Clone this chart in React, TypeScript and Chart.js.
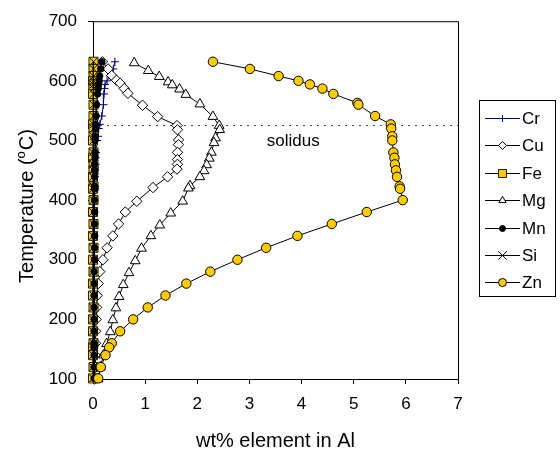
import React, { useEffect, useRef } from 'react';
import { Chart, registerables } from 'chart.js';

Chart.register(...registerables);

const FONT = '"Liberation Sans", Arial, Helvetica, sans-serif';

// Axis ticks
const wtTicks = [0, 1, 2, 3, 4, 5, 6, 7];
const tempTicks = [100, 200, 300, 400, 500, 600, 700];
const solidusTemp = 525;

// Zn
const znTemp = [632, 620, 608, 600, 594, 587, 578, 563, 560, 541, 527, 520, 507, 500, 480, 471, 460, 450, 439, 423, 419, 400, 380, 360, 340, 320, 300, 280, 260, 240, 220, 200, 180, 160, 153, 140, 120, 101];
const znWt = [2.30, 3.01, 3.56, 3.94, 4.16, 4.40, 4.61, 5.07, 5.09, 5.41, 5.71, 5.72, 5.74, 5.74, 5.76, 5.78, 5.79, 5.81, 5.83, 5.88, 5.89, 5.94, 5.25, 4.58, 3.92, 3.32, 2.77, 2.25, 1.79, 1.39, 1.05, 0.77, 0.52, 0.36, 0.31, 0.24, 0.15, 0.10];

// Mg
const mgTemp = [630, 617, 607, 598, 593, 586, 577, 561, 540, 525, 518, 504, 496, 480, 470, 459, 449, 439, 424, 420, 398, 378, 358, 340, 319, 298, 278, 258, 238, 219, 199, 179, 159, 140, 120, 100];
const mgWt = [0.79, 1.06, 1.27, 1.44, 1.52, 1.66, 1.78, 2.05, 2.30, 2.42, 2.43, 2.35, 2.32, 2.27, 2.23, 2.18, 2.13, 2.05, 1.86, 1.83, 1.72, 1.49, 1.28, 1.11, 0.93, 0.81, 0.69, 0.58, 0.50, 0.44, 0.38, 0.33, 0.26, 0.20, 0.14, 0.10];

// Cu
const cuTemp = [632, 620, 609, 601, 596, 587, 579, 559, 540, 525, 518, 501, 493, 480, 468, 460, 452, 439, 421, 398, 380, 360, 340, 320, 300, 280, 260, 240, 220, 200, 180, 160, 140, 120, 100];
const cuWt = [0.18, 0.29, 0.36, 0.45, 0.52, 0.60, 0.67, 0.95, 1.24, 1.61, 1.62, 1.64, 1.64, 1.62, 1.62, 1.62, 1.61, 1.43, 1.15, 0.84, 0.62, 0.49, 0.38, 0.27, 0.19, 0.13, 0.10, 0.08, 0.07, 0.06, 0.05, 0.05, 0.04, 0.04, 0.03];

// Minor elements share one temperature list
const traceTemp = [632, 620, 608, 600, 594, 587, 578, 560, 541, 527, 520, 507, 500, 480, 471, 460, 450, 439, 423, 419, 400, 380, 360, 340, 320, 300, 280, 260, 240, 220, 200, 180, 160, 153, 140, 120, 101];
const crWt = [0.42, 0.39, 0.33, 0.27, 0.23, 0.22, 0.21, 0.20, 0.17, 0.13, 0.11, 0.10, 0.08, 0.06, 0.05, 0.05, 0.04, 0.04, 0.04, 0.04, 0.03, 0.03, 0.03, 0.03, 0.03, 0.02, 0.02, 0.02, 0.02, 0.02, 0.02, 0.02, 0.02, 0.02, 0.02, 0.02, 0.02];
const feWt = [0.01, 0.01, 0.01, 0.00, 0.01, 0.01, 0.00, 0.01, 0.01, 0.00, 0.01, 0.01, 0.00, 0.01, 0.00, 0.01, 0.01, 0.00, 0.01, 0.00, 0.01, 0.00, 0.01, 0.00, 0.01, 0.00, 0.01, 0.00, 0.00, 0.01, 0.00, 0.00, 0.01, 0.00, 0.00, 0.01, 0.00];
const mnWt = [0.17, 0.15, 0.13, 0.12, 0.11, 0.10, 0.09, 0.07, 0.06, 0.05, 0.05, 0.04, 0.04, 0.04, 0.04, 0.03, 0.03, 0.03, 0.03, 0.03, 0.03, 0.03, 0.03, 0.03, 0.03, 0.03, 0.02, 0.02, 0.02, 0.02, 0.02, 0.02, 0.02, 0.02, 0.02, 0.02, 0.02];
const siWt = [0.01, 0.01, 0.01, 0.01, 0.01, 0.01, 0.01, 0.01, 0.01, 0.01, 0.01, 0.01, 0.01, 0.00, 0.01, 0.00, 0.01, 0.00, 0.01, 0.00, 0.01, 0.00, 0.01, 0.00, 0.00, 0.01, 0.00, 0.00, 0.01, 0.00, 0.00, 0.00, 0.01, 0.00, 0.00, 0.00, 0.00];

const GOLD = '#FFCC00';

type Series = {
  name: string;
  temp: number[];
  wt: number[];
  style: string;
  radius: number;
  legendRadius: number;
  fill: string;
  stroke: string;
  line: string;
};

const series: Series[] = [
  { name: 'Cr', temp: traceTemp, wt: crWt, style: 'cross', radius: 4, legendRadius: 3.5, fill: '#000080', stroke: '#000080', line: '#000080' },
  { name: 'Cu', temp: cuTemp, wt: cuWt, style: 'rectRot', radius: 5.2, legendRadius: 4, fill: '#ffffff', stroke: '#000000', line: '#000000' },
  { name: 'Fe', temp: traceTemp, wt: feWt, style: 'rect', radius: 6.4, legendRadius: 5.6, fill: GOLD, stroke: '#222200', line: '#000000' },
  { name: 'Mg', temp: mgTemp, wt: mgWt, style: 'triangle', radius: 5.6, legendRadius: 4.2, fill: '#ffffff', stroke: '#000000', line: '#000000' },
  { name: 'Mn', temp: traceTemp, wt: mnWt, style: 'circle', radius: 3.2, legendRadius: 3, fill: '#000000', stroke: '#000000', line: '#000000' },
  { name: 'Si', temp: traceTemp, wt: siWt, style: 'crossRot', radius: 5.5, legendRadius: 6, fill: '#000000', stroke: '#000000', line: '#000000' },
  { name: 'Zn', temp: znTemp, wt: znWt, style: 'circle', radius: 4.7, legendRadius: 4, fill: GOLD, stroke: '#000000', line: '#000000' },
];

function drawMarker(ctx: CanvasRenderingContext2D, s: Series, x: number, y: number) {
  const r = s.legendRadius;
  ctx.save();
  ctx.lineWidth = 1;
  ctx.fillStyle = s.fill;
  ctx.strokeStyle = s.stroke;
  ctx.beginPath();
  switch (s.style) {
    case 'circle':
      ctx.arc(x, y, r, 0, Math.PI * 2);
      ctx.fill();
      ctx.stroke();
      break;
    case 'rect': {
      const h = r * Math.SQRT1_2;
      ctx.rect(x - h, y - h, 2 * h, 2 * h);
      ctx.fill();
      ctx.stroke();
      break;
    }
    case 'rectRot':
      ctx.moveTo(x, y - r);
      ctx.lineTo(x + r, y);
      ctx.lineTo(x, y + r);
      ctx.lineTo(x - r, y);
      ctx.closePath();
      ctx.fill();
      ctx.stroke();
      break;
    case 'triangle':
      for (let k = 0; k < 3; k++) {
        const a = (k * 2 * Math.PI) / 3;
        const px = x + Math.sin(a) * r;
        const py = y - Math.cos(a) * r;
        if (k === 0) ctx.moveTo(px, py);
        else ctx.lineTo(px, py);
      }
      ctx.closePath();
      ctx.fill();
      ctx.stroke();
      break;
    case 'cross':
      ctx.moveTo(x, y - r);
      ctx.lineTo(x, y + r);
      ctx.moveTo(x - r, y);
      ctx.lineTo(x + r, y);
      ctx.stroke();
      break;
    case 'crossRot': {
      const d = r * Math.SQRT1_2;
      ctx.moveTo(x - d, y - d);
      ctx.lineTo(x + d, y + d);
      ctx.moveTo(x + d, y - d);
      ctx.lineTo(x - d, y + d);
      ctx.stroke();
      break;
    }
  }
  ctx.restore();
}

const decor = {
  id: 'decor',
  beforeDatasetsDraw(chart: any) {
    const { ctx, chartArea: a } = chart;
    ctx.save();
    ctx.strokeStyle = '#000';
    ctx.lineWidth = 1;
    ctx.beginPath();
    ctx.moveTo(a.left + 0.5, a.top + 0.5);
    ctx.lineTo(a.right + 0.5, a.top + 0.5);
    ctx.lineTo(a.right + 0.5, a.bottom + 0.5);
    ctx.stroke();
    ctx.restore();
  },
  afterDraw(chart: any) {
    const { ctx, chartArea: a, scales } = chart;
    ctx.save();
    ctx.fillStyle = '#000';

    // solidus label
    ctx.font = `17px ${FONT}`;
    ctx.textAlign = 'center';
    ctx.textBaseline = 'alphabetic';
    ctx.fillText('solidus', scales.x.getPixelForValue(3.84), scales.y.getPixelForValue(490));

    // x axis title
    ctx.font = `20px ${FONT}`;
    ctx.fillText('wt% element in Al', (a.left + a.right) / 2, 447);

    // y axis title with superscript "o" for degrees
    ctx.save();
    ctx.translate(33, 206);
    ctx.rotate(-Math.PI / 2);
    ctx.textAlign = 'left';
    const big = `20px ${FONT}`;
    const small = `13px ${FONT}`;
    ctx.font = big;
    const p1 = 'Temperature (';
    const p3 = 'C)';
    const w1 = ctx.measureText(p1).width;
    const w3 = ctx.measureText(p3).width;
    ctx.font = small;
    const w2 = ctx.measureText('o').width + 1;
    let cx = -(w1 + w2 + w3) / 2;
    ctx.font = big;
    ctx.fillText(p1, cx, 0);
    cx += w1;
    ctx.font = small;
    ctx.fillText('o', cx, -8);
    cx += w2;
    ctx.font = big;
    ctx.fillText(p3, cx, 0);
    ctx.restore();

    // legend
    ctx.strokeStyle = '#000';
    ctx.lineWidth = 1;
    ctx.strokeRect(479.5, 100.5, 76, 196);
    ctx.font = `17px ${FONT}`;
    ctx.textAlign = 'left';
    ctx.textBaseline = 'middle';
    series.forEach((s, i) => {
      const y = Math.round(118 + i * 27.4) + 0.5;
      ctx.strokeStyle = s.line;
      ctx.beginPath();
      ctx.moveTo(485, y);
      ctx.lineTo(520, y);
      ctx.stroke();
      drawMarker(ctx, s, 502.5, y);
      ctx.fillStyle = '#000';
      ctx.fillText(s.name, 522, y + 1);
    });
    ctx.restore();
  },
};

export default function App() {
  const ref = useRef<HTMLCanvasElement>(null);

  useEffect(() => {
    const canvas = ref.current;
    if (!canvas) return;

    const datasets: any[] = series.map((s, i) => ({
      label: s.name,
      data: s.wt.map((w, k) => ({ x: w, y: s.temp[k] })),
      showLine: true,
      borderColor: s.line,
      borderWidth: 1,
      pointStyle: s.style,
      pointRadius: s.radius,
      pointBackgroundColor: s.fill,
      pointBorderColor: s.stroke,
      pointBorderWidth: 1,
      order: series.length - 1 - i,
      clip: false,
    }));
    datasets.push({
      label: 'solidus',
      data: [
        { x: wtTicks[0], y: solidusTemp },
        { x: wtTicks[wtTicks.length - 1], y: solidusTemp },
      ],
      showLine: true,
      borderColor: '#444',
      borderWidth: 1,
      borderDash: [2, 5],
      pointRadius: 0,
      order: 20,
      clip: false,
    });

    const tickFont = { family: FONT, size: 17 };
    const chart = new Chart(canvas, {
      type: 'scatter',
      data: { datasets },
      plugins: [decor],
      options: {
        animation: false,
        responsive: false,
        devicePixelRatio: 1,
        events: [],
        layout: { padding: { top: 17, right: 102, left: 0, bottom: 0 } },
        plugins: { legend: { display: false }, tooltip: { enabled: false } },
        scales: {
          x: {
            type: 'linear',
            min: wtTicks[0],
            max: wtTicks[wtTicks.length - 1],
            afterFit: (s: any) => { s.height = 81; },
            afterBuildTicks: (s: any) => { s.ticks = wtTicks.map((v) => ({ value: v })); },
            ticks: { color: '#000', font: tickFont, padding: 10, maxRotation: 0, autoSkip: false },
            grid: { drawOnChartArea: false, drawTicks: true, tickLength: 5, tickColor: '#000' },
            border: { color: '#000', width: 1 },
          },
          y: {
            type: 'linear',
            min: tempTicks[0],
            max: tempTicks[tempTicks.length - 1],
            afterFit: (s: any) => { s.width = 93; },
            afterBuildTicks: (s: any) => { s.ticks = tempTicks.map((v) => ({ value: v })); },
            ticks: { color: '#000', font: tickFont, padding: 11, autoSkip: false },
            grid: { drawOnChartArea: false, drawTicks: true, tickLength: 5, tickColor: '#000' },
            border: { color: '#000', width: 1 },
          },
        },
      } as any,
    });

    return () => chart.destroy();
  }, []);

  return (
    <div style={{ position: 'absolute', left: 0, top: 0, width: 560, height: 460, background: '#fff' }}>
      <canvas ref={ref} width={560} height={460} style={{ display: 'block' }} />
    </div>
  );
}
